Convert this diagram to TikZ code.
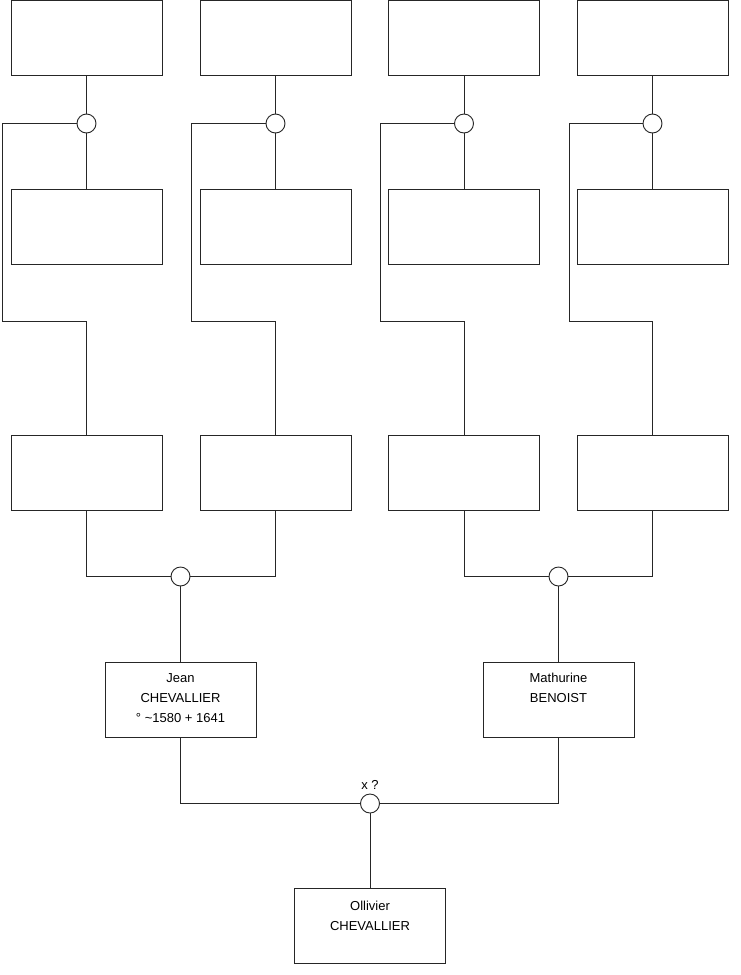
\documentclass[tikz,border=0pt]{standalone}
\usepackage{fontspec}
\setmainfont{Liberation Sans}
\begin{document}
\begin{tikzpicture}[x=1pt,y=-1pt,
  wire/.style={draw=black!85,line width=0.9pt},
  box/.style={draw=black!85,line width=0.9pt,fill=white,minimum width=151pt,minimum height=75pt,inner sep=0pt},
  knot/.style={circle,draw=black!85,line width=0.9pt,fill=white,minimum size=19pt,inner sep=0pt},
  lbl/.style={font=\fontsize{13}{20}\selectfont,inner sep=0pt}]
\newcommand{\boxtext}[2]{\parbox[c][75pt][t]{151pt}{\centering\fontsize{13}{20}\selectfont\rule{0pt}{#1}#2}}
\useasboundingbox (0,0) rectangle (740,975);
% top row
\foreach \i/\x in {1/86.5,2/275.5,3/464,4/652.5}{
  \node[box] (a\i) at (\x,37.8) {};
  \node[box] (b\i) at (\x,227) {};
  \node[box] (c\i) at (\x,472.5) {};
}
\foreach \i/\x/\l in {1/86.5/2,2/275.5/191,3/464/380,4/652.5/569}{
  \node[knot] (k\i) at (\x,123.5) {};
  \coordinate (p\i) at (\l,321.5);
  \draw[wire] (a\i.south) -- (k\i.north);
  \draw[wire] (k\i.south) -- (b\i.north);
  \draw[wire] (k\i.west) -| (p\i) -| (c\i.north);
}
\node[knot] (m1) at (180.5,576.5) {};
\node[knot] (m2) at (558.5,576.5) {};
\draw[wire] (c1.south) |- (m1.west);
\draw[wire] (c2.south) |- (m1.east);
\draw[wire] (c3.south) |- (m2.west);
\draw[wire] (c4.south) |- (m2.east);
\node[box] (jean) at (180.5,699.5) {\boxtext{20.5pt}{Jean\\CHEVALLIER\\° \char`\~1580 + 1641}};
\node[box] (math) at (558.5,699.5) {\boxtext{20.5pt}{Mathurine\\BENOIST}};
\draw[wire] (m1.south) -- (jean.north);
\draw[wire] (m2.south) -- (math.north);
\node[knot] (z) at (370,803.5) {};
\node[lbl] (zl) at (370,785) {x ?};
\draw[wire] (jean.south) |- (z.west);
\draw[wire] (math.south) |- (z.east);
\node[box] (oll) at (370,925.5) {\boxtext{22.5pt}{Ollivier\\CHEVALLIER}};
\draw[wire] (z.south) -- (oll.north);
\end{tikzpicture}
\end{document}
